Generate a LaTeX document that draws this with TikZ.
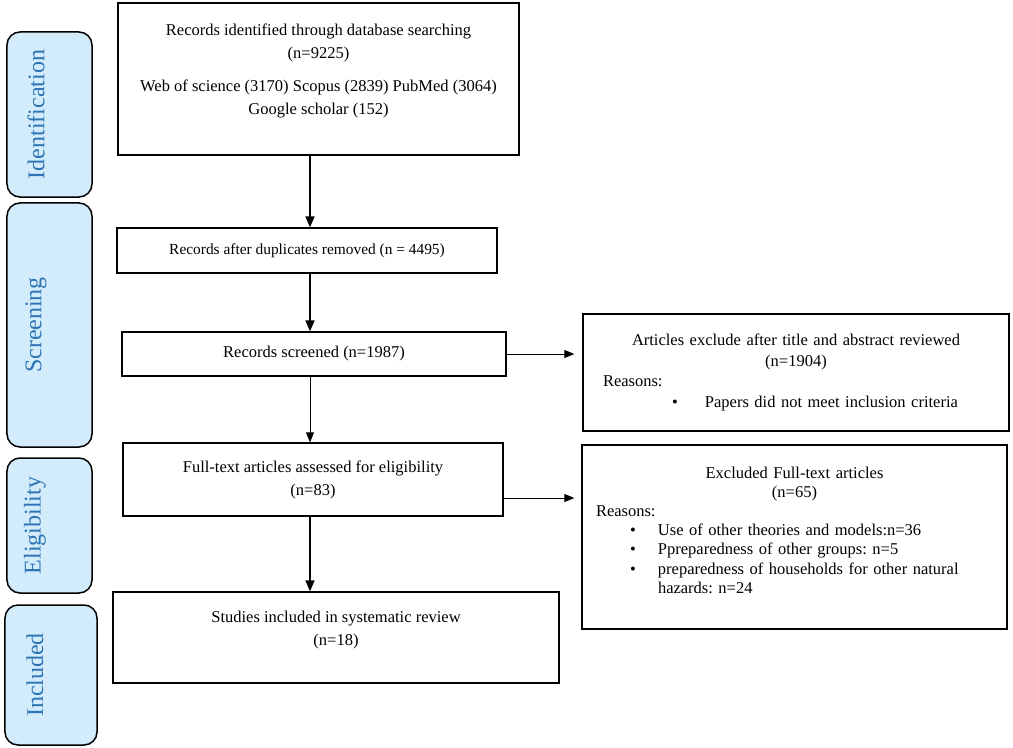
\documentclass[tikz,border=0pt]{standalone}
\usepackage{fontspec}
\setmainfont{Liberation Serif}
\usetikzlibrary{arrows.meta}
\definecolor{stagefill}{HTML}{D2ECFB}
\definecolor{stageblue}{HTML}{2E74B5}
% bullet at #1, text indented by #2
\newcommand\reason[3]{\par\noindent\hangindent=#2\hangafter=1\makebox[#2][l]{\hspace*{#1}\textbullet}#3\par}

\tikzset{
  box/.style={draw, line width=1.3bp, align=center, inner sep=0pt,
    font=\fontsize{16.5bp}{23bp}\selectfont},
  exclbox/.style={draw, line width=1.3bp, align=left, inner ysep=0pt,
    font=\fontsize{16.5bp}{20bp}\selectfont},
  stage/.style={draw, line width=1.5bp, fill=stagefill, rounded corners=13bp},
  stagetext/.style={rotate=90, text=stageblue, inner sep=0pt,
    font=\fontsize{24bp}{28bp}\selectfont},
  arr/.style={-{Triangle[length=11bp,width=9bp]}, line width=1.4bp},
  thinarr/.style={-{Triangle[length=10bp,width=8bp]}, line width=0.9bp},
}

\begin{document}
\frenchspacing\hyphenpenalty=10000
\begin{tikzpicture}[x=1bp,y=-1bp]
\useasboundingbox (0,0) rectangle (1013,748);

% stages on the left
\node[stage, minimum width=85bp, minimum height=165bp] (sid) at (49.5,114.5) {};
\node[stagetext] (sid-t) at (36,114.5) {Identification};
\node[stage, minimum width=85bp, minimum height=244bp] (sscr) at (49.5,325) {};
\node[stagetext] (sscr-t) at (36,325) {Screening};
\node[stage, minimum width=85bp, minimum height=135bp] (selig) at (49.5,525.5) {};
\node[stagetext] (selig-t) at (35,525.5) {Eligibility};
\node[stage, minimum width=92bp, minimum height=140bp] (sincl) at (51,675) {};
\node[stagetext] (sincl-t) at (35,675) {Included};

% main column
\node[box, minimum width=401bp, minimum height=152bp] (rec) at (318.5,79)
  {Records identified through database searching\\(n=9225)\\[10bp]
   Web of science (3170) Scopus (2839) PubMed (3064)\\
   Google scholar (152)\rule[-19bp]{0pt}{0pt}};
\node[box, minimum width=380bp, minimum height=45bp,
  font=\fontsize{15.4bp}{20bp}\selectfont] (dup) at (307,250.5)
  {Records after duplicates removed (n = 4495)};
\node[box, minimum width=384bp, minimum height=44bp] (scr) at (314,354)
  {Records screened (n=1987)};
\node[box, minimum width=380bp, minimum height=73bp] (full) at (313,479.5)
  {Full-text articles assessed for eligibility\\(n=83)};
\node[box, minimum width=446bp, minimum height=91bp] (incl) at (336,637.5)
  {Studies included in systematic review\\(n=18)\rule[-18bp]{0pt}{0pt}};

% exclusions
\node[exclbox, text width=386bp, inner xsep=20bp, minimum height=117bp,
  font=\fontsize{16.5bp}{20.5bp}\selectfont] (ex1) at (796,372.5)
  {{\centering Articles exclude after title and abstract reviewed\par (n=1904)\par}
   Reasons:
   \reason{69bp}{102bp}{Papers did not meet inclusion criteria}};
\node[exclbox, text width=397bp, inner xsep=14bp, minimum height=184bp,
  font=\fontsize{16.5bp}{19.2bp}\selectfont] (ex2) at (794.5,537)
  {{\centering Excluded Full-text articles\par (n=65)\par}
   Reasons:
   \reason{34bp}{62bp}{Use of other theories and models:n=36}
   \reason{34bp}{62bp}{Ppreparedness of other groups: n=5}
   \reason{34bp}{62bp}{preparedness of households for other natural hazards: n=24\rule[-14bp]{0pt}{0pt}}};

% connectors
\coordinate (axis) at (310,0);
\coordinate (row2) at (0,498);
\draw[arr] (rec.south -| axis) -- (dup.north -| axis);
\draw[arr] (dup.south -| axis) -- (scr.north -| axis);
\draw[thinarr] (scr.south -| axis) -- (full.north -| axis);
\draw[arr] (full.south -| axis) -- (incl.north -| axis);
\draw[thinarr, shorten >=8bp] (scr.east) -- (scr.east -| ex1.west);
\draw[thinarr, shorten >=7bp] (full.east |- row2) -- (ex2.west |- row2);

\end{tikzpicture}
\end{document}
